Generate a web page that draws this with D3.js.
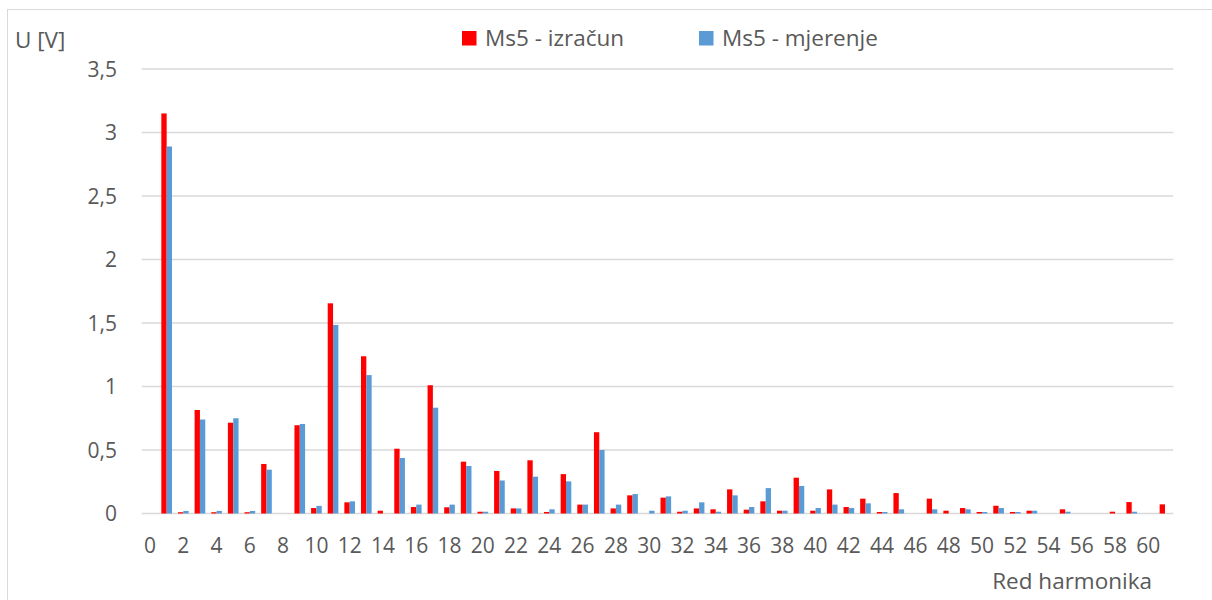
<!DOCTYPE html>
<html>
<head>
<meta charset="utf-8">
<script src="https://cdn.jsdelivr.net/npm/d3@7"></script>
<style>
  html, body { margin: 0; padding: 0; background: #fff; }
  svg { display: block; }
  text { font-family: "Open Sans", "Liberation Sans", sans-serif; fill: #595959; }
</style>
</head>
<body>
<svg id="chart" width="1212" height="600"></svg>
<script>
// Harmonic order 0..61
const harmonics = d3.range(0, 62);
const seriesNames = ["Ms5 - izračun", "Ms5 - mjerenje"];
const seriesColors = ["#ff0000", "#5b9bd5"];

// Calculated voltage per harmonic [V]
const calculated = [
  0, 3.15, 0.01, 0.815, 0.01, 0.715, 0.01, 0.39, 0, 0.695,
  0.043, 1.655, 0.088, 1.238, 0.022, 0.51, 0.051, 1.01, 0.049, 0.408,
  0.014, 0.335, 0.04, 0.419, 0.012, 0.31, 0.07, 0.64, 0.04, 0.143,
  0, 0.125, 0.014, 0.04, 0.033, 0.19, 0.03, 0.096, 0.022, 0.282,
  0.022, 0.19, 0.051, 0.117, 0.012, 0.161, 0, 0.117, 0.022, 0.043,
  0.012, 0.061, 0.012, 0.022, 0, 0.033, 0, 0, 0.014, 0.09,
  0, 0.072
];

// Measured voltage per harmonic [V]
const measured = [
  0, 2.89, 0.02, 0.74, 0.02, 0.75, 0.02, 0.345, 0, 0.705,
  0.06, 1.485, 0.096, 1.09, 0, 0.437, 0.07, 0.833, 0.07, 0.374,
  0.014, 0.26, 0.04, 0.29, 0.033, 0.253, 0.07, 0.5, 0.07, 0.153,
  0.022, 0.135, 0.022, 0.088, 0.014, 0.143, 0.051, 0.2, 0.022, 0.217,
  0.043, 0.07, 0.043, 0.08, 0.012, 0.033, 0, 0.033, 0, 0.033,
  0.012, 0.043, 0.012, 0.022, 0, 0.014, 0, 0, 0, 0.014,
  0, 0
];

const yTicks = [0, 0.5, 1, 1.5, 2, 2.5, 3, 3.5];
const xTickLabels = harmonics.filter(h => h % 2 === 0);

const svg = d3.select("#chart");
const plot = { left: 141.7, right: 1173.3, top: 69, bottom: 513.5 };

// Outer frame of the chart area
svg.append("rect")
  .attr("x", 7.5).attr("y", 9.5)
  .attr("width", 1220).attr("height", 620)
  .attr("fill", "none").attr("stroke", "#d9d9d9").attr("stroke-width", 1);

const x = d3.scaleBand().domain(harmonics).range([plot.left, plot.right]).padding(0);
const x1 = d3.scaleBand().domain(seriesNames)
  .range([x.bandwidth() * 0.18, x.bandwidth() * 0.82]).padding(0);
const y = d3.scaleLinear().domain([0, 3.5]).range([plot.bottom, plot.top]);

// Horizontal gridlines
svg.append("g")
  .selectAll("line")
  .data(yTicks)
  .join("line")
  .attr("x1", plot.left).attr("x2", plot.right)
  .attr("y1", d => y(d)).attr("y2", d => y(d))
  .attr("stroke", "#d9d9d9").attr("stroke-width", 1.3);

// Y axis labels
const fmt = d => String(d).replace(".", ",");
svg.append("g")
  .selectAll("text")
  .data(yTicks)
  .join("text")
  .attr("x", 117)
  .attr("y", d => y(d))
  .attr("dy", "0.36em")
  .attr("text-anchor", "end")
  .attr("font-size", 21)
  .text(fmt);

// X axis labels
svg.append("g")
  .selectAll("text")
  .data(xTickLabels)
  .join("text")
  .attr("x", d => x(d) + x.bandwidth() / 2)
  .attr("y", 553)
  .attr("text-anchor", "middle")
  .attr("font-size", 21)
  .text(d => d);

// Bars
const seriesData = [calculated, measured];
seriesNames.forEach((name, i) => {
  svg.append("g")
    .selectAll("rect")
    .data(harmonics.filter(h => seriesData[i][h] > 0))
    .join("rect")
    .attr("x", h => x(h) + x1(name))
    .attr("width", x1.bandwidth())
    .attr("y", h => y(seriesData[i][h]))
    .attr("height", h => y(0) - y(seriesData[i][h]))
    .attr("fill", seriesColors[i]);
});

// Axis titles
svg.append("text")
  .attr("x", 15).attr("y", 48)
  .attr("font-size", 22.5)
  .text("U [V]");

svg.append("text")
  .attr("x", 1152).attr("y", 589)
  .attr("text-anchor", "end")
  .attr("font-size", 22.5)
  .text("Red harmonika");

// Legend
const legendX = [462, 699];
seriesNames.forEach((name, i) => {
  const g = svg.append("g").attr("transform", `translate(${legendX[i]},31)`);
  g.append("rect").attr("width", 14.5).attr("height", 14.5).attr("fill", seriesColors[i]);
  g.append("text").attr("x", 23).attr("y", 15).attr("font-size", 22.5).text(name);
});
</script>
</body>
</html>
